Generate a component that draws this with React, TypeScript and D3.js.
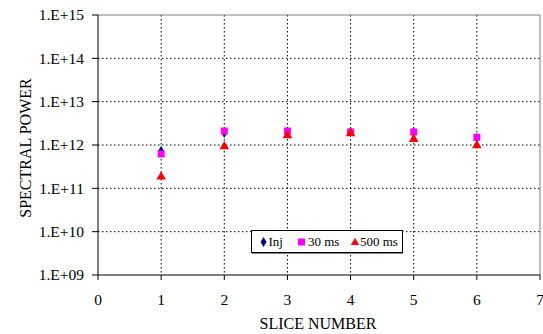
import React from "react";
import * as d3 from "d3";

const slices = [1, 2, 3, 4, 5, 6];
const injValues = [7.3e11, 1.9e12, 2.0e12, 2.0e12, 1.95e12, 1.45e12];
const ms30Values = [6.2e11, 2.1e12, 2.1e12, 2.0e12, 2.0e12, 1.5e12];
const ms500Values = [1.9e11, 9.5e11, 1.7e12, 1.9e12, 1.4e12, 1.0e12];
const yTicks = [1e9, 1e10, 1e11, 1e12, 1e13, 1e14, 1e15];
const yTickLabels = ["1.E+09", "1.E+10", "1.E+11", "1.E+12", "1.E+13", "1.E+14", "1.E+15"];
const xTicks = [0, 1, 2, 3, 4, 5, 6, 7];
const legendLabels = ["Inj", "30 ms", "500 ms"];

const W = 543, H = 334;
const left = 98, right = 540, top = 15, bottom = 275;
const font = "'Liberation Serif', 'Times New Roman', serif";

export default function App() {
  const x = d3.scaleLinear().domain([0, 7]).range([left, right]);
  const y = d3.scaleLog().domain([1e9, 1e15]).range([bottom, top]);
  const tri = d3.symbol().type(d3.symbolTriangle).size(40)();
  const dia = d3.symbol().type(d3.symbolDiamond).size(30)();

  return (
    <svg width={W} height={H} style={{ position: "absolute", left: 0, top: 0 }}>
      <rect x={0} y={0} width={W} height={H} fill="#fff" />
      {/* gridlines */}
      {yTicks.slice(1, -1).map((t) => (
        <line key={"gy" + t} x1={left} x2={right} y1={y(t)} y2={y(t)} stroke="#000" strokeWidth={1} strokeDasharray="1.5,2.5" />
      ))}
      {xTicks.slice(1, -1).map((t) => (
        <line key={"gx" + t} x1={x(t)} x2={x(t)} y1={top} y2={bottom} stroke="#000" strokeWidth={1} strokeDasharray="1.5,2.5" />
      ))}
      {/* border */}
      <line x1={left} x2={right} y1={top} y2={top} stroke="#808080" strokeWidth={1} />
      <line x1={right} x2={right} y1={top} y2={bottom} stroke="#808080" strokeWidth={1} />
      <line x1={left} x2={left} y1={top} y2={bottom} stroke="#000" strokeWidth={1} />
      <line x1={left} x2={right} y1={bottom} y2={bottom} stroke="#000" strokeWidth={1} />
      {/* y ticks */}
      {yTicks.map((t, i) => (
        <g key={"yt" + t}>
          <line x1={left - 6} x2={left} y1={y(t)} y2={y(t)} stroke="#000" />
          <text x={84} y={y(t)} dy="0.35em" textAnchor="end" fontFamily={font} fontSize={15.5}>
            {yTickLabels[i]}
          </text>
        </g>
      ))}
      {/* x ticks */}
      {xTicks.map((t) => (
        <g key={"xt" + t}>
          <line x1={x(t)} x2={x(t)} y1={bottom} y2={bottom + 5} stroke="#000" />
          <text x={x(t)} y={bottom + 30} textAnchor="middle" fontFamily={font} fontSize={15.5}>
            {t}
          </text>
        </g>
      ))}
      <text x={318} y={329} textAnchor="middle" fontFamily={font} fontSize={16}>
        SLICE NUMBER
      </text>
      <text transform={`translate(31,148) rotate(-90)`} textAnchor="middle" fontFamily={font} fontSize={16}>
        SPECTRAL POWER
      </text>
      {/* data */}
      {slices.map((s, i) => (
        <path key={"d" + s} d={dia} transform={`translate(${x(s)},${y(injValues[i])})`} fill="#000080" />
      ))}
      {slices.map((s, i) => (
        <rect key={"s" + s} x={x(s) - 3.5} y={y(ms30Values[i]) - 3.5} width={7} height={7} fill="#ff00ff" />
      ))}
      {slices.map((s, i) => (
        <path key={"t" + s} d={tri} transform={`translate(${x(s)},${y(ms500Values[i]) + 0.5})`} fill="#ff0000" />
      ))}
      {/* legend */}
      <rect x={251.5} y={230.5} width={151} height={22} fill="#fff" stroke="#000" strokeWidth={1} />
      <line x1={252} x2={403} y1={253} y2={253} stroke="#000" strokeWidth={1} />
      <path d={dia} transform="translate(263.5,242)" fill="#000080" />
      <text x={268.5} y={246} fontFamily={font} fontSize={13}>{legendLabels[0]}</text>
      <rect x={298} y={238.5} width={7} height={7} fill="#ff00ff" />
      <text x={308} y={246} fontFamily={font} fontSize={13}>{legendLabels[1]}</text>
      <path d={d3.symbol().type(d3.symbolTriangle).size(30)()} transform="translate(355,242.5)" fill="#ff0000" />
      <text x={360} y={246} fontFamily={font} fontSize={13}>{legendLabels[2]}</text>
    </svg>
  );
}
